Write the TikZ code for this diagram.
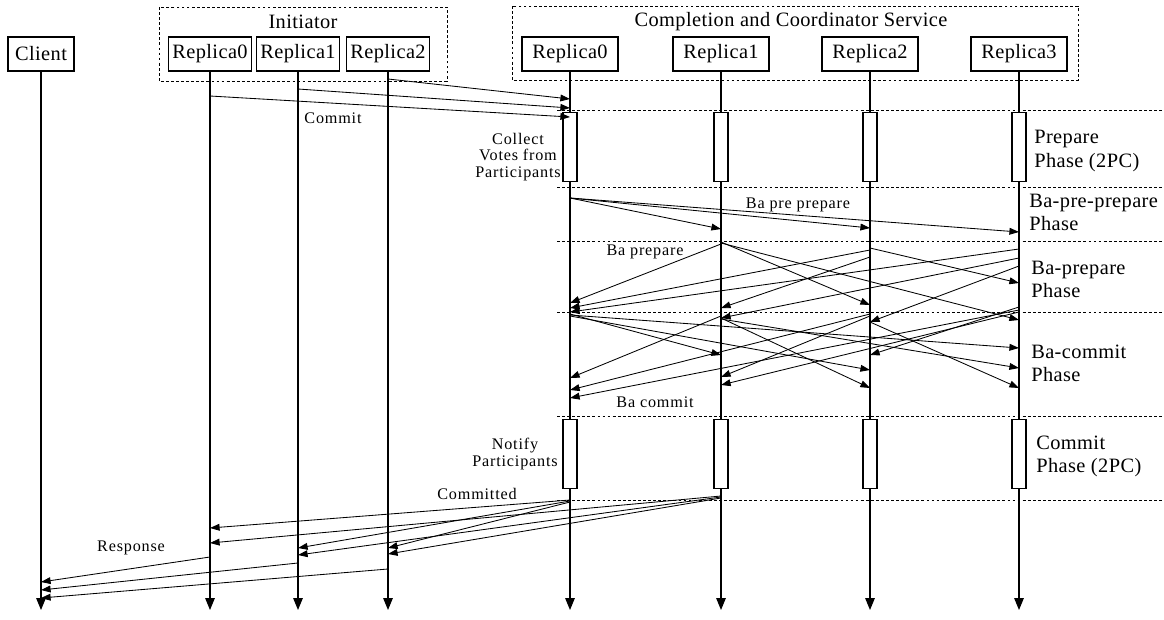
\documentclass[tikz,border=0pt]{standalone}
\usepackage{fontspec}
\setmainfont{Liberation Serif}[LetterSpace=2]
\newfontfamily\smallfnt{Liberation Serif}[LetterSpace=5]
\usetikzlibrary{arrows.meta}

% message from one lifeline to another
\newcommand{\msg}[4]{\draw[msg] (#1 |- 0,#2) -- (#3 |- 0,#4);}

\begin{document}
\begin{tikzpicture}[x=0.025cm, y=-0.025cm,
    head/.style={draw, fill=white, line width=0.8pt, minimum height=0.85cm, inner xsep=0.1cm, font=\fontsize{14.5}{16}\selectfont},
    grp/.style={line width=0.7pt, dash pattern=on 2pt off 1.6pt},
    phaseline/.style={line width=0.7pt, dash pattern=on 2pt off 1.6pt},
    life/.style={line width=0.8pt, -{Triangle[length=3mm,width=2.4mm]}},
    msg/.style={line width=0.6pt, -{Triangle[length=2.4mm,width=1.7mm]}},
    actbox/.style={draw, fill=white, line width=0.8pt, minimum width=0.35cm, minimum height=1.72cm, inner sep=0pt},
    lbl/.style={font=\smallfnt\fontsize{11.5}{11.8}\selectfont, align=center, inner sep=0pt},
    phase/.style={font=\fontsize{14.5}{16.4}\selectfont, align=left, anchor=west, inner sep=0pt}]
    \useasboundingbox (0,0) rectangle (1164,619);

    % groups
    \draw[grp] (159,7) rectangle (447,81);
    \node[font=\fontsize{14.5}{16}\selectfont] (initlbl) at (303,22) {Initiator};
    \draw[grp] (512,6) rectangle (1078,80);
    \node[font=\fontsize{14.5}{16}\selectfont] (ccslbl) at (791,22) {Completion and Coordinator Service};

    % heads and lifelines
    \node[head, minimum width=1.65cm] (cl) at (41,54) {Client};
    \node[head] (ir0) at (210,54) {Replica0};
    \node[head] (ir1) at (298,54) {Replica1};
    \node[head] (ir2) at (388,54) {Replica2};
    \node[head, minimum width=2.4cm] (cr0) at (570,54) {Replica0};
    \node[head, minimum width=2.4cm] (cr1) at (721,54) {Replica1};
    \node[head, minimum width=2.4cm] (cr2) at (870,54) {Replica2};
    \node[head, minimum width=2.4cm] (cr3) at (1019,54) {Replica3};
    \coordinate (bottom) at (0,610);
    \foreach \n in {cl,ir0,ir1,ir2,cr0,cr1,cr2,cr3}
        \draw[life] (\n) -- (\n |- bottom);

    % phase separators
    \foreach \y in {110,187,241,312,416,500}
        \draw[phaseline] (557,\y) -- (1164,\y);

    % 2PC activations
    \foreach \r in {0,...,3} {
        \node[actbox] (prep\r) at (cr\r |- 0,147) {};
        \node[actbox] (fin\r) at (cr\r |- 0,454) {};
    }

    % commit request
    \msg{ir2}{79}{cr0}{99}
    \msg{ir1}{89}{cr0}{108}
    \msg{ir0}{96}{cr0}{117}

    % ba pre-prepare
    \msg{cr0}{198}{cr1}{229}
    \msg{cr0}{198}{cr2}{228}
    \msg{cr0}{198}{cr3}{232}

    % ba prepare
    \msg{cr1}{244}{cr0}{303}
    \msg{cr1}{242}{cr2}{305}
    \msg{cr1}{243}{cr3}{320}
    \msg{cr2}{248}{cr3}{283}
    \msg{cr2}{250}{cr0}{308}
    \msg{cr2}{257}{cr1}{308}
    \msg{cr3}{249}{cr0}{312}
    \msg{cr3}{258}{cr1}{318}
    \msg{cr3}{266}{cr2}{322}

    % ba commit
    \msg{cr0}{314}{cr1}{355}
    \msg{cr0}{316}{cr2}{370}
    \msg{cr0}{315}{cr3}{348}
    \msg{cr1}{316}{cr0}{378}
    \msg{cr1}{318}{cr2}{388}
    \msg{cr1}{319}{cr3}{368}
    \msg{cr2}{314}{cr0}{390}
    \msg{cr2}{316}{cr1}{377}
    \msg{cr2}{322}{cr3}{388}
    \msg{cr3}{310}{cr0}{398}
    \msg{cr3}{312}{cr1}{385}
    \msg{cr3}{307}{cr2}{355}

    % committed
    \msg{cr0}{500}{ir0}{528}
    \msg{cr1}{496}{ir0}{543}
    \msg{cr0}{501}{ir1}{548}
    \msg{cr1}{497}{ir1}{555}
    \msg{cr0}{502}{ir2}{548}
    \msg{cr1}{498}{ir2}{554}

    % response
    \msg{ir0}{557}{cl}{582}
    \msg{ir1}{563}{cl}{590}
    \msg{ir2}{569}{cl}{598}

    % labels
    \node[lbl] (votes) at (518,157) {Collect\\Votes from\\Participants};
    \node[lbl] (notify) at (515,454) {Notify\\Participants};
    \node[lbl] (commitlbl) at (333,118) {Commit};
    \node[lbl] (bapplbl) at (798,205) {Ba pre prepare};
    \node[lbl] (baplbl) at (645,252) {Ba prepare};
    \node[lbl] (baclbl) at (655,402) {Ba commit};
    \node[lbl] (cmtdlbl) at (477,494) {Committed};
    \node[lbl] (resplbl) at (131,548) {Response};

    % phase names
    \node[phase] (ph1) at (1034,151) {Prepare\\Phase (2PC)};
    \node[phase] (ph2) at (1029,212) {Ba-pre-prepare\\Phase};
    \node[phase] (ph3) at (1031,279) {Ba-prepare\\Phase};
    \node[phase] (ph4) at (1031,363) {Ba-commit\\Phase};
    \node[phase] (ph5) at (1036,456) {Commit\\Phase (2PC)};
\end{tikzpicture}
\end{document}
